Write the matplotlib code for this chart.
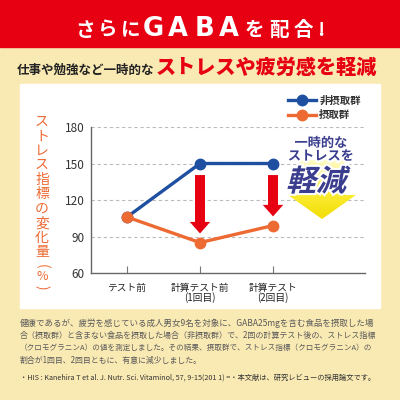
import matplotlib
matplotlib.use('Agg')
import matplotlib.pyplot as plt
import numpy as np
from matplotlib.patches import Rectangle, Polygon, FancyArrow, PathPatch
from matplotlib.textpath import TextPath
from matplotlib.font_manager import FontProperties
from matplotlib.transforms import Affine2D
from matplotlib.colors import LinearSegmentedColormap
import matplotlib.patheffects as pe

plt.rcParams['font.family'] = ['Noto Sans CJK JP', 'DejaVu Sans']

# ---------------- data ----------------
categories = ['テスト前', '計算テスト前\n(1回目)', '計算テスト\n(2回目)']
non_intake = [106, 150, 150]
intake = [106, 85, 99]
series_names = ['非摂取群', '摂取群']
yticks = [60, 90, 120, 150, 180]
ylabel_chars = list('ストレス指標の変化量')

title_left = 'さらに'
title_mid = 'GABA'
title_right = 'を配合!'
sub_black = '仕事や勉強など一時的な'
sub_red = 'ストレスや疲労感を軽減'
badge_lines = ['一時的な', 'ストレスを']
badge_big = '軽減'
body_lines = [
    '健康であるが、疲労を感じている成人男女9名を対象に、GABA25mgを含む食品を摂取した場',
    '合（摂取群）と含まない食品を摂取した場合（非摂取群）で、2回の計算テスト後の、ストレス指標',
    '（クロモグラニンA）の値を測定しました。その結果、摂取群で、ストレス指標（クロモグラニンA）の',
    '割合が1回目、2回目ともに、有意に減少しました。',
]
footnote = '・HIS : Kanehira T et al. J. Nutr. Sci. Vitaminol, 57, 9-15(201 1) =・本文献は、研究レビューの採用論文です。'

# ---------------- colours ----------------
RED = '#e60012'
CREAM = '#f9e9b3'
BLUE = '#1f4fa0'
ORANGE = '#ee6a33'
NAVY = '#3b3e8e'

fig = plt.figure(figsize=(4, 4), dpi=100)

# background layer in pixel coordinates
bg = fig.add_axes([0, 0, 1, 1], zorder=0)
bg.set_xlim(0, 400); bg.set_ylim(400, 0); bg.axis('off')
bg.add_patch(Rectangle((0, 0), 400, 400, color=CREAM))
bg.add_patch(Rectangle((0, 0), 400, 47, color=RED))
bg.add_patch(Rectangle((20, 84), 360, 224, color='white'))

# title, letter by letter
for ch, xx in zip(title_left, [85, 108, 131]):
    bg.text(xx, 30, ch, ha='center', va='center', fontsize=14, weight='bold', color='white')
for ch, xx in zip(title_mid, [153, 178, 204, 229]):
    bg.text(xx, 29, ch, ha='center', va='center', fontsize=18.5, weight='heavy', color='white',
            family=['DejaVu Sans'])
for ch, xx in zip(title_right, [254, 279, 303, 321]):
    bg.text(xx, 30, ch, ha='center', va='center', fontsize=14, weight='bold', color='white')

# subtitle
bg.text(17, 74, sub_black, ha='left', va='baseline', fontsize=9, weight='bold', color='#222222')
bg.text(156, 74, sub_red, ha='left', va='baseline', fontsize=14.5, weight='heavy', color=RED)

# body text: fit each line to the width it has in the reference
body_texts = []
for i, line in enumerate(body_lines):
    body_texts.append(bg.text(20, 323 + i * 12.4, line, ha='left', va='center',
                              fontsize=6.0, color='#5a5a5a'))
foot_text = bg.text(20, 378, footnote, ha='left', va='center', fontsize=5.5, color='#333333')
targets = [355, 360, 352, 183]
fig.canvas.draw()
r = fig.canvas.get_renderer()
for t, w in zip(body_texts, targets):
    cur = t.get_window_extent(r).width
    t.set_fontsize(min(6.6, 6.0 * w / cur))
cur = foot_text.get_window_extent(r).width
foot_text.set_fontsize(5.5 * 358 / cur)

# y label (vertical, upright characters)
for i, ch in enumerate(ylabel_chars):
    bg.text(42, 122 + i * 14.44, ch, ha='center', va='center', fontsize=10, color=ORANGE)
bg.text(42, 266, '(', ha='center', va='center', fontsize=10, color=ORANGE, rotation=-90)
bg.text(42, 277, '%', ha='center', va='center', fontsize=9, color=ORANGE)
bg.text(42, 287, ')', ha='center', va='center', fontsize=10, color=ORANGE, rotation=-90)

# ---------------- chart ----------------
ax = fig.add_axes([91 / 400, 1 - 273 / 400, (365 - 91) / 400, (273 - 127) / 400], zorder=1)
ax.set_facecolor('none')
x = np.arange(len(categories))
ax.set_xlim(-0.493, 3.26)
ax.set_ylim(60, 180)
ax.set_yticks(yticks)
ax.set_xticks(x)
ax.set_xticklabels(categories, fontsize=7, color='#222222', linespacing=0.95)
ax.tick_params(axis='y', length=0, pad=4.5, labelsize=8.5, labelcolor='#333333')
ax.tick_params(axis='x', direction='in', length=5, width=0.8, color='#777777', pad=7)
for s in ['top', 'right']:
    ax.spines[s].set_visible(False)
for s in ['left', 'bottom']:
    ax.spines[s].set_color('#666666')
    ax.spines[s].set_linewidth(1.0)
for v in yticks[1:]:
    ax.axhline(v, color='#bbbbbb', lw=0.8, ls=(0, (3, 2.5)), zorder=0)

ax.plot(x, non_intake, color=BLUE, lw=2.4, marker='o', ms=7.5, zorder=3, label=series_names[0])
ax.plot(x, intake, color=ORANGE, lw=2.4, marker='o', ms=7.5, zorder=3, label=series_names[1])

# red arrows between groups
for i in [1, 2]:
    y0 = non_intake[i] - 9.5
    y1 = intake[i] + 7.5
    ax.add_patch(FancyArrow(x[i], y0, 0, y1 - y0, width=0.137, head_width=0.28,
                            head_length=9.5, length_includes_head=True,
                            color=RED, lw=0, zorder=4))

leg = ax.legend(loc='upper left', bbox_to_anchor=(288 / 400, 1 - 96 / 400),
                bbox_transform=fig.transFigure, frameon=False,
                handlelength=2.7, handletextpad=0.3, labelspacing=0.4,
                borderpad=0, borderaxespad=0, prop={'weight': 'bold', 'size': 7.5})
for t in leg.get_texts():
    t.set_color('#333333')

# ---------------- badge overlay ----------------
top = fig.add_axes([0, 0, 1, 1], zorder=3)
top.set_xlim(0, 400); top.set_ylim(400, 0); top.axis('off')
top.patch.set_alpha(0)

arrow_pts = [(298, 160), (345, 160), (345, 195), (356, 195), (322, 219), (288, 195), (298, 195)]
poly = Polygon(arrow_pts, closed=True, facecolor='none', edgecolor='none')
top.add_patch(poly)
grad = np.linspace(0, 1, 100).reshape(-1, 1)
cmap = LinearSegmentedColormap.from_list('yel', ['#fffbd0', '#fbee3a', '#f2dc00'])
im = top.imshow(grad, extent=(285, 360, 222, 158), cmap=cmap, aspect='auto', zorder=1)
im.set_clip_path(poly)
top.set_xlim(0, 400); top.set_ylim(400, 0)

stroke = [pe.Stroke(linewidth=3.5, foreground='white'), pe.Normal()]
top.text(321, 143, badge_lines[0], ha='center', va='center', fontsize=9.5, weight='bold',
         color=NAVY, path_effects=stroke, zorder=3)
top.text(321, 156, badge_lines[1], ha='center', va='center', fontsize=9.5, weight='bold',
         color=NAVY, path_effects=stroke, zorder=3)

tp = TextPath((0, 0), badge_big, size=30, prop=FontProperties(family='Noto Sans CJK JP', weight='bold'))
tr = Affine2D().skew_deg(14, 0).scale(1, -1).translate(286, 191) + top.transData
patch = PathPatch(tp, transform=tr, facecolor=NAVY, edgecolor='none', zorder=3,
                  path_effects=[pe.Stroke(linewidth=3, foreground='white'), pe.Normal()])
top.add_patch(patch)

fig.savefig('out.png', dpi=100)
